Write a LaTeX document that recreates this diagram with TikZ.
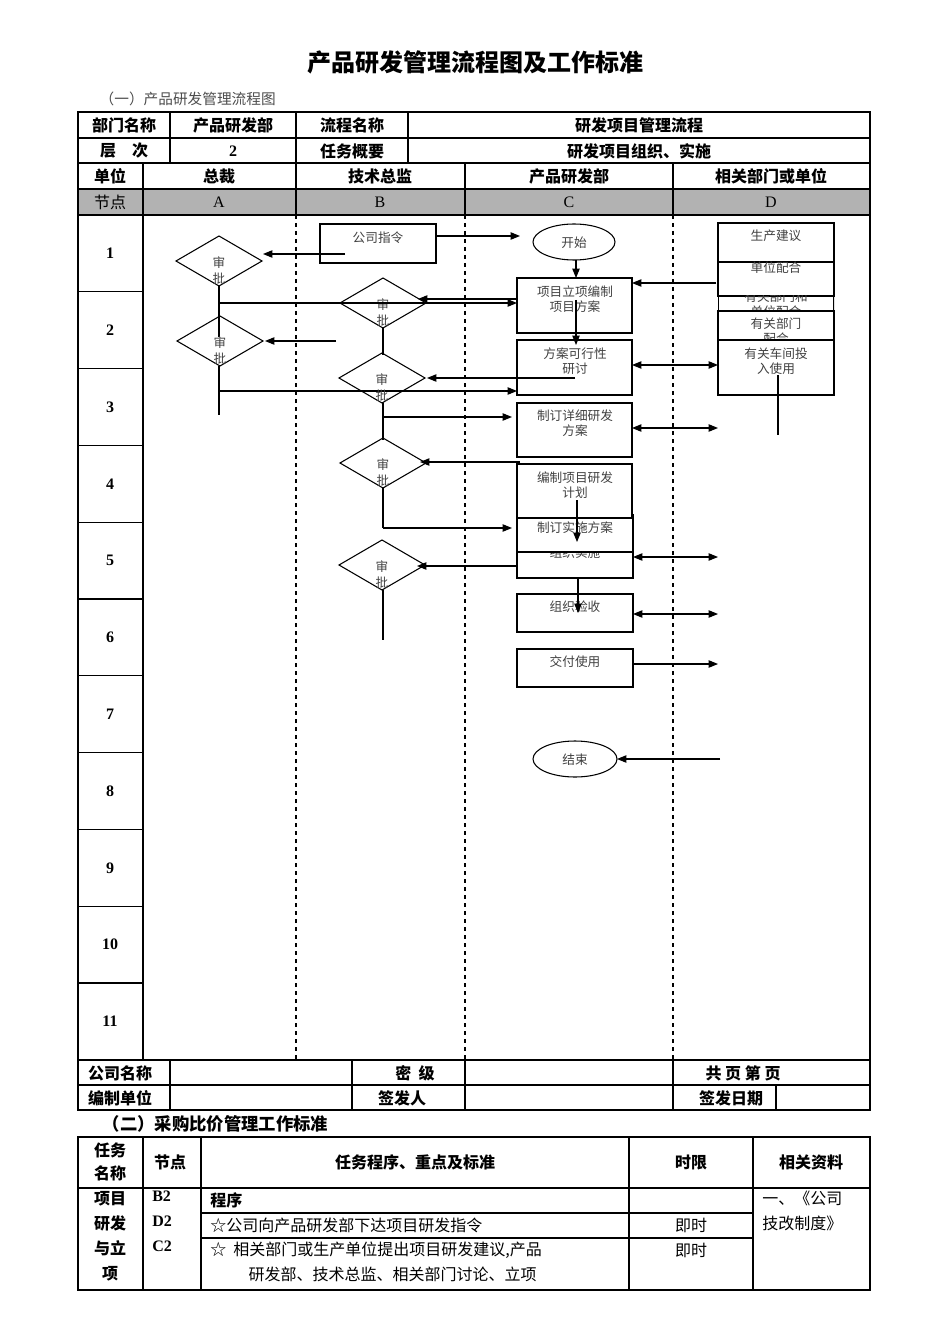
\documentclass[tikz,border=0pt]{standalone}
\usepackage{fontspec}
\setmainfont{Noto Sans CJK SC}
\newfontfamily\lat{Liberation Serif}
\usetikzlibrary{arrows.meta}
\tikzset{
 ar/.style={-{Triangle[length=7pt,width=5.5pt]},line width=0.8pt},
 dar/.style={{Triangle[length=7pt,width=5.5pt]}-{Triangle[length=7pt,width=5.5pt]},line width=0.8pt},
 ln/.style={line width=0.8pt},
 bx/.style={draw,line width=0.8pt},
 ft/.style={font=\fontsize{9.5}{11}\selectfont,text=black!75,align=center,inner sep=0pt},
 tb/.style={font=\fontsize{12}{14}\selectfont\bfseries,inner sep=0pt},
 tn/.style={font=\fontsize{12}{14}\selectfont,inner sep=0pt},
 dv/.style={dashed,line width=0.9pt},
}
\newcommand{\dia}[3]{\draw[ln] ({#1-43},#2) -- (#1,{#2-25}) -- ({#1+43},#2) -- (#1,{#2+25}) -- cycle;
 \node[ft] (#3a) at (#1,{#2+2}) {审}; \node[ft] (#3b) at (#1,{#2+18}) {批};}
\begin{document}
\begin{tikzpicture}[x=0.75pt,y=-0.75pt]
\useasboundingbox (0,0) rectangle (950,1344);
\node[font=\fontsize{18}{20}\selectfont\bfseries] (title) at (475,62) {产品研发管理流程图及工作标准};
\node[font=\fontsize{11}{13}\selectfont,text=black!70,anchor=west] (sub1) at (95,99) {（一）产品研发管理流程图};
% header table
\fill[black!30] (78,189) rectangle (870,215);
\draw[line width=0.8pt] (78,112) rectangle (870,1110);
\foreach \y in {138,163,189,215,1060,1085} \draw[line width=0.8pt] (78,\y) -- (870,\y);
\foreach \x in {170,296,408} \draw[line width=0.8pt] (\x,112) -- (\x,163);
\foreach \x in {143,296,465,673} \draw[line width=0.8pt] (\x,163) -- (\x,215);
\foreach \x in {170,352,465,673} \draw[line width=0.8pt] (\x,1060) -- (\x,1110);
\draw[line width=0.8pt] (776,1085) -- (776,1110);
\draw[line width=0.8pt] (143,215) -- (143,1060);
\foreach \i in {1,...,10} \draw[line width=0.8pt] (78,{215+\i*76.8}) -- (143,{215+\i*76.8});
\foreach \i in {1,...,11} \node[font=\lat\bfseries\fontsize{12}{14}\selectfont] (r\i) at (110,{215+(\i-0.5)*76.8}) {\i};
\foreach \x in {143,296,465,673} \draw[dv] (\x,215) -- (\x,1060);
\node[tb] (h1) at (124,125) {部门名称};
\node[tb] (h2) at (233,125) {产品研发部};
\node[tb] (h3) at (352,125) {流程名称};
\node[tb] (h4) at (639,125) {研发项目管理流程};
\node[tb] (h5) at (124,151) {层\quad 次};
\node[font=\lat\bfseries\fontsize{12}{14}\selectfont] (h6) at (233,151) {2};
\node[tb] (h7) at (352,151) {任务概要};
\node[tb] (h8) at (639,151) {研发项目组织、实施};
\node[tb] (u1) at (110,176) {单位};
\node[tb] (u2) at (219,176) {总裁};
\node[tb] (u3) at (380,176) {技术总监};
\node[tb] (u4) at (569,176) {产品研发部};
\node[tb] (u5) at (771,176) {相关部门或单位};
\node[tn] (n0) at (110,202) {节点};
\node[font=\lat\fontsize{12}{14}\selectfont] (nA) at (219,202) {A};
\node[font=\lat\fontsize{12}{14}\selectfont] (nB) at (380,202) {B};
\node[font=\lat\fontsize{12}{14}\selectfont] (nC) at (569,202) {C};
\node[font=\lat\fontsize{12}{14}\selectfont] (nD) at (771,202) {D};
\node[tb] (f1) at (120,1073) {公司名称};
\node[tb] (f2) at (415,1073) {密\ \ 级};
\node[tb] (f3) at (743,1073) {共\ 页\ 第\ 页};
\node[tb] (f4) at (120,1098) {编制单位};
\node[tb] (f5) at (402,1098) {签发人};
\node[tb] (f6) at (731,1098) {签发日期};
% flow
\draw[bx] (320,224) rectangle (436,263); \node[ft] (gs) at (378,238) {公司指令};
\draw[ln] (574,242) ellipse [x radius=41, y radius=18]; \node[ft] (ks) at (574,243) {开始};
\draw[ar] (436,236) -- (520,236);
\dia{219}{261}{dA}
\draw[ar] (345,254) -- (263,254);
% D column boxes
\draw[bx] (718,223) rectangle (834,262); \node[ft] (d1) at (776,236) {生产建议};
\draw[bx] (718,262) rectangle (834,296); \node[ft] (d2) at (776,268) {单位配合};
\begin{scope}\clip (718,296) rectangle (834,311);
\draw[bx] (718,296) rectangle (834,311); \node[ft] (d3) at (776,304) {有关部门和\\单位配合};\end{scope}
\draw[bx] (718,311) rectangle (834,340);
\begin{scope}\clip (718,311) rectangle (834,340); \node[ft] (d4) at (776,331) {有关部门\\配合};\end{scope}
\draw[bx] (718,340) rectangle (834,395); \node[ft] (d5) at (776,361) {有关车间投\\入使用};
\draw[ln] (778,375) -- (778,435);
\draw[ar] (716,283) -- (632,283);
\draw[bx] (517,278) rectangle (632,333); \node[ft] (c1) at (575,299) {项目立项编制\\项目方案};
\draw[ar] (576,260) -- (576,278);
\dia{383}{303}{dB}
\draw[ln] (219,286) -- (219,337);
\draw[ar] (219,303) -- (517,303);
\draw[ar] (517,299) -- (418,299);
\dia{220}{341}{dA2}
\draw[ar] (336,341) -- (265,341);
\draw[ln] (219,366) -- (219,415);
\draw[ar] (219,391) -- (517,391);
\draw[ln] (383,328) -- (383,355);
\draw[bx] (517,340) rectangle (632,395); \node[ft] (c2) at (575,361) {方案可行性\\研讨};
\draw[ar] (576,300) -- (576,345);
\draw[dar] (632,365) -- (718,365);
\dia{382}{378}{dB3}
\draw[ar] (575,378) -- (427,378);
\draw[ln] (383,403) -- (383,440);
\draw[ar] (383,417) -- (512,417);
\draw[bx] (517,403) rectangle (632,457); \node[ft] (c3) at (575,423) {制订详细研发\\方案};
\draw[dar] (632,428) -- (718,428);
\dia{383}{463}{dB4}
\draw[ar] (520,462) -- (420,462);
\draw[ln] (383,488) -- (383,528);
\draw[ar] (383,528) -- (512,528);
\draw[bx] (517,464) rectangle (632,520); \node[ft] (c4) at (575,485) {编制项目研发\\计划};
\draw[bx] (517,552) rectangle (633,578);
\begin{scope}\clip (517,552) rectangle (633,578); \node[ft] (c6) at (575,553) {组织实施};\end{scope}
\draw[bx,fill=white] (517,518) rectangle (633,552); \node[ft] (c5) at (575,528) {制订实施方案};
\draw[ln] (633,514) -- (633,552);
\draw[ar] (577,500) -- (577,542);
\draw[dar] (633,557) -- (718,557);
\dia{382}{565}{dB5}
\draw[ar] (517,566) -- (417,566);
\draw[ln] (383,590) -- (383,640);
\draw[bx] (517,594) rectangle (633,632); \node[ft] (c7) at (575,607) {组织验收};
\draw[ar] (578,578) -- (578,613);
\draw[dar] (633,614) -- (718,614);
\draw[bx] (517,649) rectangle (633,687); \node[ft] (c8) at (575,662) {交付使用};
\draw[ar] (633,664) -- (718,664);
\draw[ln] (575,759) ellipse [x radius=42, y radius=18]; \node[ft] (js) at (575,760) {结束};
\draw[ar] (720,759) -- (617,759);
% second table
\node[font=\fontsize{13}{15}\selectfont\bfseries,anchor=west] (sub2) at (98,1124) {（二）采购比价管理工作标准};
\draw[line width=0.8pt] (78,1137) rectangle (870,1290);
\draw[line width=0.8pt] (78,1188) -- (870,1188);
\draw[line width=0.8pt] (201,1213) -- (753,1213);
\draw[line width=0.8pt] (201,1238) -- (753,1238);
\foreach \x in {143,201,629,753} \draw[line width=0.8pt] (\x,1137) -- (\x,1290);
\node[tb,align=center,font=\fontsize{12}{17}\selectfont\bfseries] (t1) at (110,1162) {任务\\名称};
\node[tb] (t2) at (170,1162) {节点};
\node[tb] (t3) at (415,1162) {任务程序、重点及标准};
\node[tb] (t4) at (691,1162) {时限};
\node[tb] (t5) at (811,1162) {相关资料};
\node[tb,align=center,font=\fontsize{12}{18.7}\selectfont\bfseries,anchor=north] (t6) at (110,1191) {项目\\研发\\与立\\项};
\node[font=\lat\bfseries\fontsize{12}{18.7}\selectfont,align=left,anchor=north west,inner sep=0pt] (t7) at (152,1191) {B2\\D2\\C2};
\node[tb,anchor=west] (t8) at (210,1200) {程序};
\node[tn,anchor=west] (t9) at (210,1225) {☆公司向产品研发部下达项目研发指令};
\node[tn,anchor=north west,align=left,font=\fontsize{12}{18.7}\selectfont] (t10) at (210,1242) {☆\ \ 相关部门或生产单位提出项目研发建议,产品\\\hspace*{2.4em}研发部、技术总监、相关部门讨论、立项};
\node[tn] (t11) at (691,1225) {即时};
\node[tn] (t12) at (691,1250) {即时};
\node[tn,anchor=north west,align=left,font=\fontsize{12}{18.7}\selectfont] (t13) at (762,1191) {一、《公司\\技改制度》};
\end{tikzpicture}
\end{document}
